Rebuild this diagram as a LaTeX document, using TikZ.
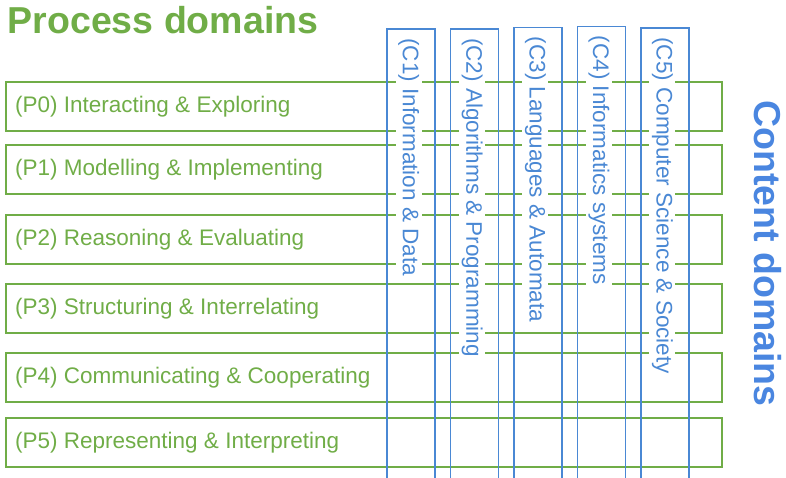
\documentclass[tikz,border=0pt]{standalone}
\usepackage{fontspec}
\setmainfont{Liberation Sans}
\definecolor{pgreen}{HTML}{70AD47}
\definecolor{cblue}{HTML}{4A88D4}
\definecolor{tblue}{HTML}{4A86E0}
\begin{document}
\begin{tikzpicture}[x=1pt,y=-1pt,
  pbox/.style={draw=pgreen, line width=1.6pt, anchor=north west,
    minimum width=716pt, minimum height=49pt, inner sep=0pt},
  ptext/.style={anchor=base west, inner sep=0pt, text=pgreen,
    font=\fontsize{22.5}{26}\selectfont},
  cbox/.style={draw=cblue, line width=1.6pt, anchor=north west,
    minimum width=48pt, minimum height=470pt, inner sep=0pt},
  ctext/.style={anchor=base west, rotate=-90, fill=white, text=cblue,
    inner xsep=2pt, inner ysep=2.5pt,
    font=\fontsize{22.5}{26}\selectfont},
  title/.style={anchor=base west, inner sep=0pt,
    font=\fontsize{37.5}{40}\selectfont\bfseries}]
\useasboundingbox (0,0) rectangle (786,478);
\clip (0,0) rectangle (786,478);
% titles
\node[title, text=pgreen] (proc) at (7.5,33.3) {Process domains};
\node[title, text=tblue, rotate=-90] (cont) at (754,100) {Content domains};
% process boxes
\node[pbox] (p0) at (5,81) {};
\node[pbox] (p1) at (5,144.3) {};
\node[pbox] (p2) at (5,214) {};
\node[pbox] (p3) at (5,283.3) {};
\node[pbox] (p4) at (5,352.3) {};
\node[pbox] (p5) at (5,417.3) {};
\node[ptext] (t0) at (15,113) {(P0) Interacting \& Exploring};
\node[ptext] (t1) at (15,176) {(P1) Modelling \& Implementing};
\node[ptext] (t2) at (15,245.5) {(P2) Reasoning \& Evaluating};
\node[ptext] (t3) at (15,314.8) {(P3) Structuring \& Interrelating};
\node[ptext] (t4) at (15,383.8) {(P4) Communicating \& Cooperating};
\node[ptext] (t5) at (15,448.8) {(P5) Representing \& Interpreting};
% content labels
\node[ctext] (l1) at (402.8,36.3) {(C1) Information \& Data};
\node[ctext] (l2) at (466.3,36) {(C2) Algorithms \& Programming};
\node[ctext] (l3) at (529.6,34.7) {(C3) Languages \& Automata};
\node[ctext] (l4) at (593,33.7) {(C4) Informatics systems};
\node[ctext] (l5) at (656.5,35.3) {(C5) Computer Science \& Society};
% content boxes
\node[cbox] (c1) at (386.3,28.3) {};
\node[cbox] (c2) at (449.7,28) {};
\node[cbox] (c3) at (513.3,26.7) {};
\node[cbox] (c4) at (576.7,25.7) {};
\node[cbox] (c5) at (640,27.3) {};
\end{tikzpicture}
\end{document}
